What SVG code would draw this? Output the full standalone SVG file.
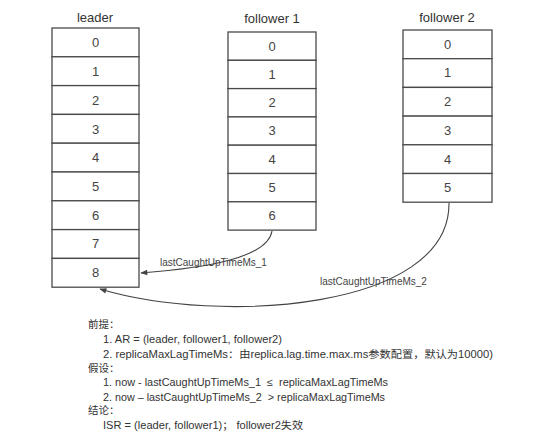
<svg xmlns="http://www.w3.org/2000/svg" width="560" height="442" viewBox="0 0 560 442">
<defs>
<style>
.cell{fill:#fff;stroke:#4a4a4a;stroke-width:1.3}
.num{font-family:"Liberation Sans",Arial,sans-serif;font-size:13px;fill:#444;text-anchor:middle}
.title{font-family:"Liberation Sans",Arial,sans-serif;font-size:13px;fill:#333;text-anchor:middle}
.lbl{font-family:"Liberation Sans",Arial,sans-serif;font-size:10px;fill:#444}
.txt{font-family:"Liberation Sans","Noto Sans CJK SC",sans-serif;font-size:10.5px;fill:#333}
.conn{fill:none;stroke:#444;stroke-width:1.1}
</style>
<marker id="ah" viewBox="0 0 10 10" refX="9" refY="5" markerWidth="9" markerHeight="7" orient="auto" markerUnits="userSpaceOnUse">
<path d="M0,1 L10,5 L0,9 Z" fill="#444"/>
</marker>
</defs>
<rect width="560" height="442" fill="#fff"/>

<g id="leader">
<text class="title" x="95" y="22">leader</text>
<rect class="cell" x="52" y="28" width="87" height="28.8"/><text class="num" x="95.5" y="47">0</text>
<rect class="cell" x="52" y="56.8" width="87" height="28.8"/><text class="num" x="95.5" y="76">1</text>
<rect class="cell" x="52" y="85.6" width="87" height="28.8"/><text class="num" x="95.5" y="105">2</text>
<rect class="cell" x="52" y="114.4" width="87" height="28.8"/><text class="num" x="95.5" y="134">3</text>
<rect class="cell" x="52" y="143.2" width="87" height="28.8"/><text class="num" x="95.5" y="162">4</text>
<rect class="cell" x="52" y="172" width="87" height="28.8"/><text class="num" x="95.5" y="191">5</text>
<rect class="cell" x="52" y="200.8" width="87" height="28.8"/><text class="num" x="95.5" y="220">6</text>
<rect class="cell" x="52" y="229.6" width="87" height="28.8"/><text class="num" x="95.5" y="248">7</text>
<rect class="cell" x="52" y="258.4" width="87" height="28.8"/><text class="num" x="95.5" y="277">8</text>
</g>

<g id="follower1">
<text class="title" x="272" y="23">follower 1</text>
<rect class="cell" x="228" y="32" width="88" height="28.3"/><text class="num" x="272" y="51">0</text>
<rect class="cell" x="228" y="60.3" width="88" height="28.3"/><text class="num" x="272" y="79">1</text>
<rect class="cell" x="228" y="88.6" width="88" height="28.3"/><text class="num" x="272" y="107">2</text>
<rect class="cell" x="228" y="116.9" width="88" height="28.3"/><text class="num" x="272" y="135">3</text>
<rect class="cell" x="228" y="145.2" width="88" height="28.3"/><text class="num" x="272" y="164">4</text>
<rect class="cell" x="228" y="173.5" width="88" height="28.3"/><text class="num" x="272" y="192">5</text>
<rect class="cell" x="228" y="201.8" width="88" height="28.3"/><text class="num" x="272" y="220">6</text>
</g>

<g id="follower2">
<text class="title" x="447" y="22">follower 2</text>
<rect class="cell" x="403" y="30" width="89" height="28.7"/><text class="num" x="447.5" y="49">0</text>
<rect class="cell" x="403" y="58.7" width="89" height="28.7"/><text class="num" x="447.5" y="77">1</text>
<rect class="cell" x="403" y="87.4" width="89" height="28.7"/><text class="num" x="447.5" y="106">2</text>
<rect class="cell" x="403" y="116.1" width="89" height="28.7"/><text class="num" x="447.5" y="135">3</text>
<rect class="cell" x="403" y="144.8" width="89" height="28.7"/><text class="num" x="447.5" y="164">4</text>
<rect class="cell" x="403" y="173.5" width="89" height="28.7"/><text class="num" x="447.5" y="192">5</text>
</g>

<g id="connectors">
<path class="conn" d="M272,231 C268,258 205,268 141,273" marker-end="url(#ah)"/>
<path class="conn" d="M449,203 C450,310 220,325 100,289" marker-end="url(#ah)"/>
<text class="lbl" x="160" y="266">lastCaughtUpTimeMs_1</text>
<text class="lbl" x="320" y="285">lastCaughtUpTimeMs_2</text>
</g>

<g id="notes">
<text class="txt" x="88" y="328">前提：</text>
<text class="txt" x="103" y="343" textLength="179" lengthAdjust="spacingAndGlyphs">1. AR = (leader, follower1, follower2)</text>
<text class="txt" x="103" y="358" textLength="390" lengthAdjust="spacingAndGlyphs">2. replicaMaxLagTimeMs：由replica.lag.time.max.ms参数配置，默认为10000)</text>
<text class="txt" x="88" y="372">假设：</text>
<text class="txt" x="103" y="386" textLength="285" lengthAdjust="spacingAndGlyphs">1. now - lastCaughtUpTimeMs_1&#160;&#160;≤&#160;&#160;replicaMaxLagTimeMs</text>
<text class="txt" x="103" y="401" textLength="282" lengthAdjust="spacingAndGlyphs">2. now – lastCaughtUpTimeMs_2&#160;&#160;&gt; replicaMaxLagTimeMs</text>
<text class="txt" x="88" y="414">结论：</text>
<text class="txt" x="103" y="429" textLength="200" lengthAdjust="spacingAndGlyphs">ISR = (leader, follower1)；&#160;follower2失效</text>
</g>
</svg>
